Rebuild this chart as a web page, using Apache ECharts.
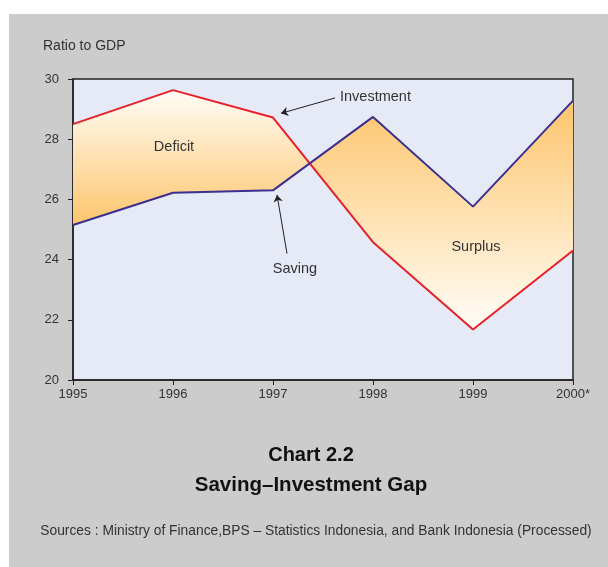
<!DOCTYPE html>
<html>
<head>
<meta charset="utf-8">
<script src="https://cdn.jsdelivr.net/npm/echarts@6/dist/echarts.min.js"></script>
<style>
  body { margin: 0; background: #ffffff; }
  #bg { position: absolute; left: 9px; top: 14px; width: 599px; height: 553px; background: #cccccc; }
  #chart { position: absolute; left: 0; top: 0; width: 608px; height: 567px; }
</style>
</head>
<body>
<div id="bg"></div>
<div id="chart"></div>
<script>
// data (ratio to GDP, %)
const years = [1995, 1996, 1997, 1998, 1999, 2000];
const yearLabels = ["1995", "1996", "1997", "1998", "1999", "2000*"];
const investment = [28.5, 29.63, 28.72, 24.58, 21.68, 24.3];
const saving = [25.15, 26.22, 26.3, 28.74, 25.76, 29.28];

const FONT = "Liberation Sans";

// split the gap between the two lines into regions (deficit / surplus)
function gapRegions() {
  const regions = [];
  let inv = [[years[0], investment[0]]];
  let sav = [[years[0], saving[0]]];
  for (let i = 1; i < years.length; i++) {
    const d0 = investment[i - 1] - saving[i - 1];
    const d1 = investment[i] - saving[i];
    if (d0 * d1 < 0) {
      const t = d0 / (d0 - d1);
      const cx = years[i - 1] + t * (years[i] - years[i - 1]);
      const cy = investment[i - 1] + t * (investment[i] - investment[i - 1]);
      inv.push([cx, cy]);
      sav.push([cx, cy]);
      regions.push({ deficit: d0 > 0, pts: inv.concat(sav.slice().reverse()) });
      inv = [[cx, cy]];
      sav = [[cx, cy]];
    }
    inv.push([years[i], investment[i]]);
    sav.push([years[i], saving[i]]);
  }
  const dl = investment[years.length - 1] - saving[years.length - 1];
  regions.push({ deficit: dl > 0, pts: inv.concat(sav.slice().reverse()) });
  return regions;
}
const regions = gapRegions();

const orange = "#fdc56c";
const cream = "#fffdf7";

var chart = echarts.init(document.getElementById("chart"));

var option = {
  backgroundColor: "transparent",
  animation: false,
  grid: {
    left: 73, top: 79, width: 500, height: 301,
    show: true,
    backgroundColor: "#e6eaf6",
    borderColor: "#222",
    borderWidth: 1.5
  },
  xAxis: {
    type: "value",
    min: 1995, max: 2000, interval: 1,
    axisLine: { show: true, lineStyle: { color: "#222", width: 1.5 } },
    axisTick: { show: true, length: 5, lineStyle: { color: "#222" } },
    splitLine: { show: false },
    axisLabel: {
      margin: 8, color: "#333", fontFamily: FONT, fontSize: 13,
      formatter: function (v) { return yearLabels[years.indexOf(v)]; }
    }
  },
  yAxis: {
    type: "value",
    min: 20, max: 30, interval: 2,
    axisLine: { show: true, lineStyle: { color: "#222", width: 1.5 } },
    axisTick: { show: true, length: 5, lineStyle: { color: "#222" } },
    splitLine: { show: false },
    axisLabel: { margin: 14, color: "#333", fontFamily: FONT, fontSize: 13 }
  },
  series: [
    {
      type: "custom",
      z: 1,
      silent: true,
      data: regions.map(function (r, i) { return [i]; }),
      renderItem: function (params, api) {
        const r = regions[params.dataIndex];
        const points = r.pts.map(function (p) { return api.coord(p); });
        const top = r.deficit ? cream : orange;
        const bottom = r.deficit ? orange : cream;
        return {
          type: "polygon",
          shape: { points: points },
          style: {
            fill: new echarts.graphic.LinearGradient(0, 0, 0, 1, [
              { offset: 0, color: top },
              { offset: 1, color: bottom }
            ])
          }
        };
      }
    },
    {
      name: "Investment",
      type: "line",
      z: 3,
      data: years.map(function (y, i) { return [y, investment[i]]; }),
      symbol: "none",
      lineStyle: { color: "#e8202a", width: 2 },
      markLine: {
        silent: true,
        symbol: ["none", "arrow"],
        symbolSize: 7,
        label: { show: false },
        lineStyle: { color: "#222", width: 1, type: "solid" },
        data: [[{ coord: [1997.62, 29.37] }, { coord: [1997.08, 28.86] }]]
      }
    },
    {
      name: "Saving",
      type: "line",
      z: 3,
      data: years.map(function (y, i) { return [y, saving[i]]; }),
      symbol: "none",
      lineStyle: { color: "#3b2f91", width: 2 },
      markLine: {
        silent: true,
        symbol: ["none", "arrow"],
        symbolSize: 7,
        label: { show: false },
        lineStyle: { color: "#222", width: 1, type: "solid" },
        data: [[{ coord: [1997.14, 24.2] }, { coord: [1997.04, 26.15] }]]
      }
    }
  ],
  graphic: [
    { type: "text", z: 100, left: 43, top: 39, style: { text: "Ratio to GDP", fill: "#333", font: "14px " + FONT } },
    { type: "text", z: 100, x: 174, y: 147, style: { text: "Deficit", fill: "#333", font: "14.5px " + FONT, textAlign: "center", textVerticalAlign: "middle" } },
    { type: "text", z: 100, x: 476, y: 247, style: { text: "Surplus", fill: "#333", font: "14.5px " + FONT, textAlign: "center", textVerticalAlign: "middle" } },
    { type: "text", z: 100, x: 340, y: 97, style: { text: "Investment", fill: "#333", font: "14.5px " + FONT, textAlign: "left", textVerticalAlign: "middle" } },
    { type: "text", z: 100, x: 295, y: 269, style: { text: "Saving", fill: "#333", font: "14.5px " + FONT, textAlign: "center", textVerticalAlign: "middle" } },
    { type: "text", z: 100, x: 311, y: 455, style: { text: "Chart 2.2", fill: "#111", font: "bold 20px " + FONT, textAlign: "center", textVerticalAlign: "middle" } },
    { type: "text", z: 100, x: 311, y: 485, style: { text: "Saving\u2013Investment Gap", fill: "#111", font: "bold 20.5px " + FONT, textAlign: "center", textVerticalAlign: "middle" } },
    { type: "text", z: 100, x: 316, y: 531, style: { text: "Sources : Ministry of Finance,BPS \u2013 Statistics Indonesia, and Bank Indonesia (Processed)", fill: "#333", font: "13.8px " + FONT, textAlign: "center", textVerticalAlign: "middle" } }
  ]
};

chart.setOption(option);
</script>
</body>
</html>
